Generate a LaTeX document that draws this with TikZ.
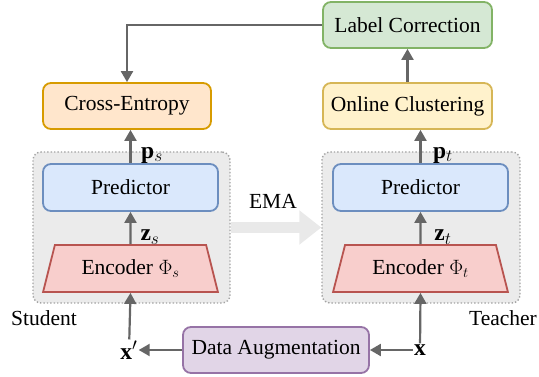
\documentclass[tikz,border=0pt]{standalone}
\usepackage{fontspec}
\setmainfont{Liberation Serif}
\usepackage{amsmath,amssymb}
\usepackage{tikz}
\usetikzlibrary{arrows.meta}
\usetikzlibrary{shapes.geometric}
\definecolor{arrgray}{HTML}{666666}
\definecolor{emagray}{HTML}{E9E9E9}
\definecolor{boxgray}{HTML}{EBEBEB}
\definecolor{dotgray}{HTML}{A3A3A3}
\definecolor{grnfill}{HTML}{D5E8D4}
\definecolor{grndraw}{HTML}{82B366}
\definecolor{orgfill}{HTML}{FFE6CC}
\definecolor{orgdraw}{HTML}{D79B00}
\definecolor{ylwfill}{HTML}{FFF2CC}
\definecolor{ylwdraw}{HTML}{D6B656}
\definecolor{blufill}{HTML}{DAE8FC}
\definecolor{bludraw}{HTML}{6C8EBF}
\definecolor{redfill}{HTML}{F8CECC}
\definecolor{reddraw}{HTML}{B85450}
\definecolor{purfill}{HTML}{E1D5E7}
\definecolor{purdraw}{HTML}{9673A6}

\begin{document}
\begin{tikzpicture}[x=1pt,y=-1pt]
    \tikzstyle{every node}=[font=\fontsize{21.5}{24}\selectfont]
    \tikzstyle{b} = [draw,rounded corners=8pt,line width=1.8pt,inner sep=0pt,minimum height=46pt]
    \tikzstyle{grp} = [draw=dotgray,fill=boxgray,dotted,line width=1.4pt,rounded corners=8pt,inner sep=0pt,minimum height=151pt]
    \tikzstyle{enc} = [draw=reddraw,fill=redfill,line width=1.8pt,trapezium,trapezium angle=67,trapezium stretches=true,minimum width=175pt,minimum height=47pt,inner sep=0pt]
    \tikzstyle{a} = [draw=arrgray,line width=2.2pt,-{Triangle[length=11pt,width=12pt]}]
    \tikzstyle{n} = [inner sep=1pt]
    \tikzstyle{m} = [inner sep=1pt,font=\fontsize{23.5}{26}\selectfont]
    \useasboundingbox (0,0) rectangle (539,377);
    % groups
    \node [grp,minimum width=197pt] (stu) at (131.5,227.5) {};
    \node [grp,minimum width=198pt] (tea) at (421,227.5) {};
    \path [draw=emagray,line width=11pt,-{Triangle[length=22pt,width=33pt]}] (stu) -- (tea);
    % boxes
    \node [b,draw=grndraw,fill=grnfill,minimum width=169pt] (lc) at (407.5,25) {Label Correction};
    \node [b,draw=orgdraw,fill=orgfill,minimum width=168pt] (ce) at (127,106) {Cross-Entropy};
    \node [b,draw=ylwdraw,fill=ylwfill,minimum width=169pt] (oc) at (407.5,106) {Online Clustering};
    \node [b,draw=bludraw,fill=blufill,minimum width=175pt,minimum height=47pt] (ps) at (130.5,187.5) {Predictor};
    \node [b,draw=bludraw,fill=blufill,minimum width=175pt,minimum height=47pt] (pt) at (420.5,187.5) {Predictor};
    \node [enc] (es) at (130.5,268.5) {Encoder $\Phi_s$};
    \node [enc] (et) at (420.5,268.5) {Encoder $\Phi_t$};
    \node [b,draw=purdraw,fill=purfill,minimum width=186pt] (da) at (276,350) {Data Augmentation};
    % inputs and labels
    \node [m] (xs) at (129,350) {$\mathbf{x}'$};
    \node [m] (xt) at (420,350) {$\mathbf{x}$};
    \node [m] (psl) at (152,155) {$\mathbf{p}_s$};
    \node [m] (ptl) at (443,155) {$\mathbf{p}_t$};
    \node [m] (zsl) at (150,237) {$\mathbf{z}_s$};
    \node [m] (ztl) at (443,237) {$\mathbf{z}_t$};
    \node [n] (stul) at (44,318) {Student};
    \node [n] (teal) at (503,318) {Teacher};
    \node [n] (emal) at (273,201) {EMA};
    % arrows
    \path [a] (lc) -| (ce);
    \path [a] (oc) -- (lc);
    \path [a] (ps.north) -- (ps.north |- ce.south);
    \path [a] (pt.north) -- (pt.north |- oc.south);
    \path [a] (es.north) -- (ps.south);
    \path [a] (et.north) -- (pt.south);
    \path [a] (xs) -- (es.south);
    \path [a] (xt) -- (et.south);
    \path [a] (da) -- (xs);
    \path [a] (xt) -- (da);
\end{tikzpicture}
\end{document}
